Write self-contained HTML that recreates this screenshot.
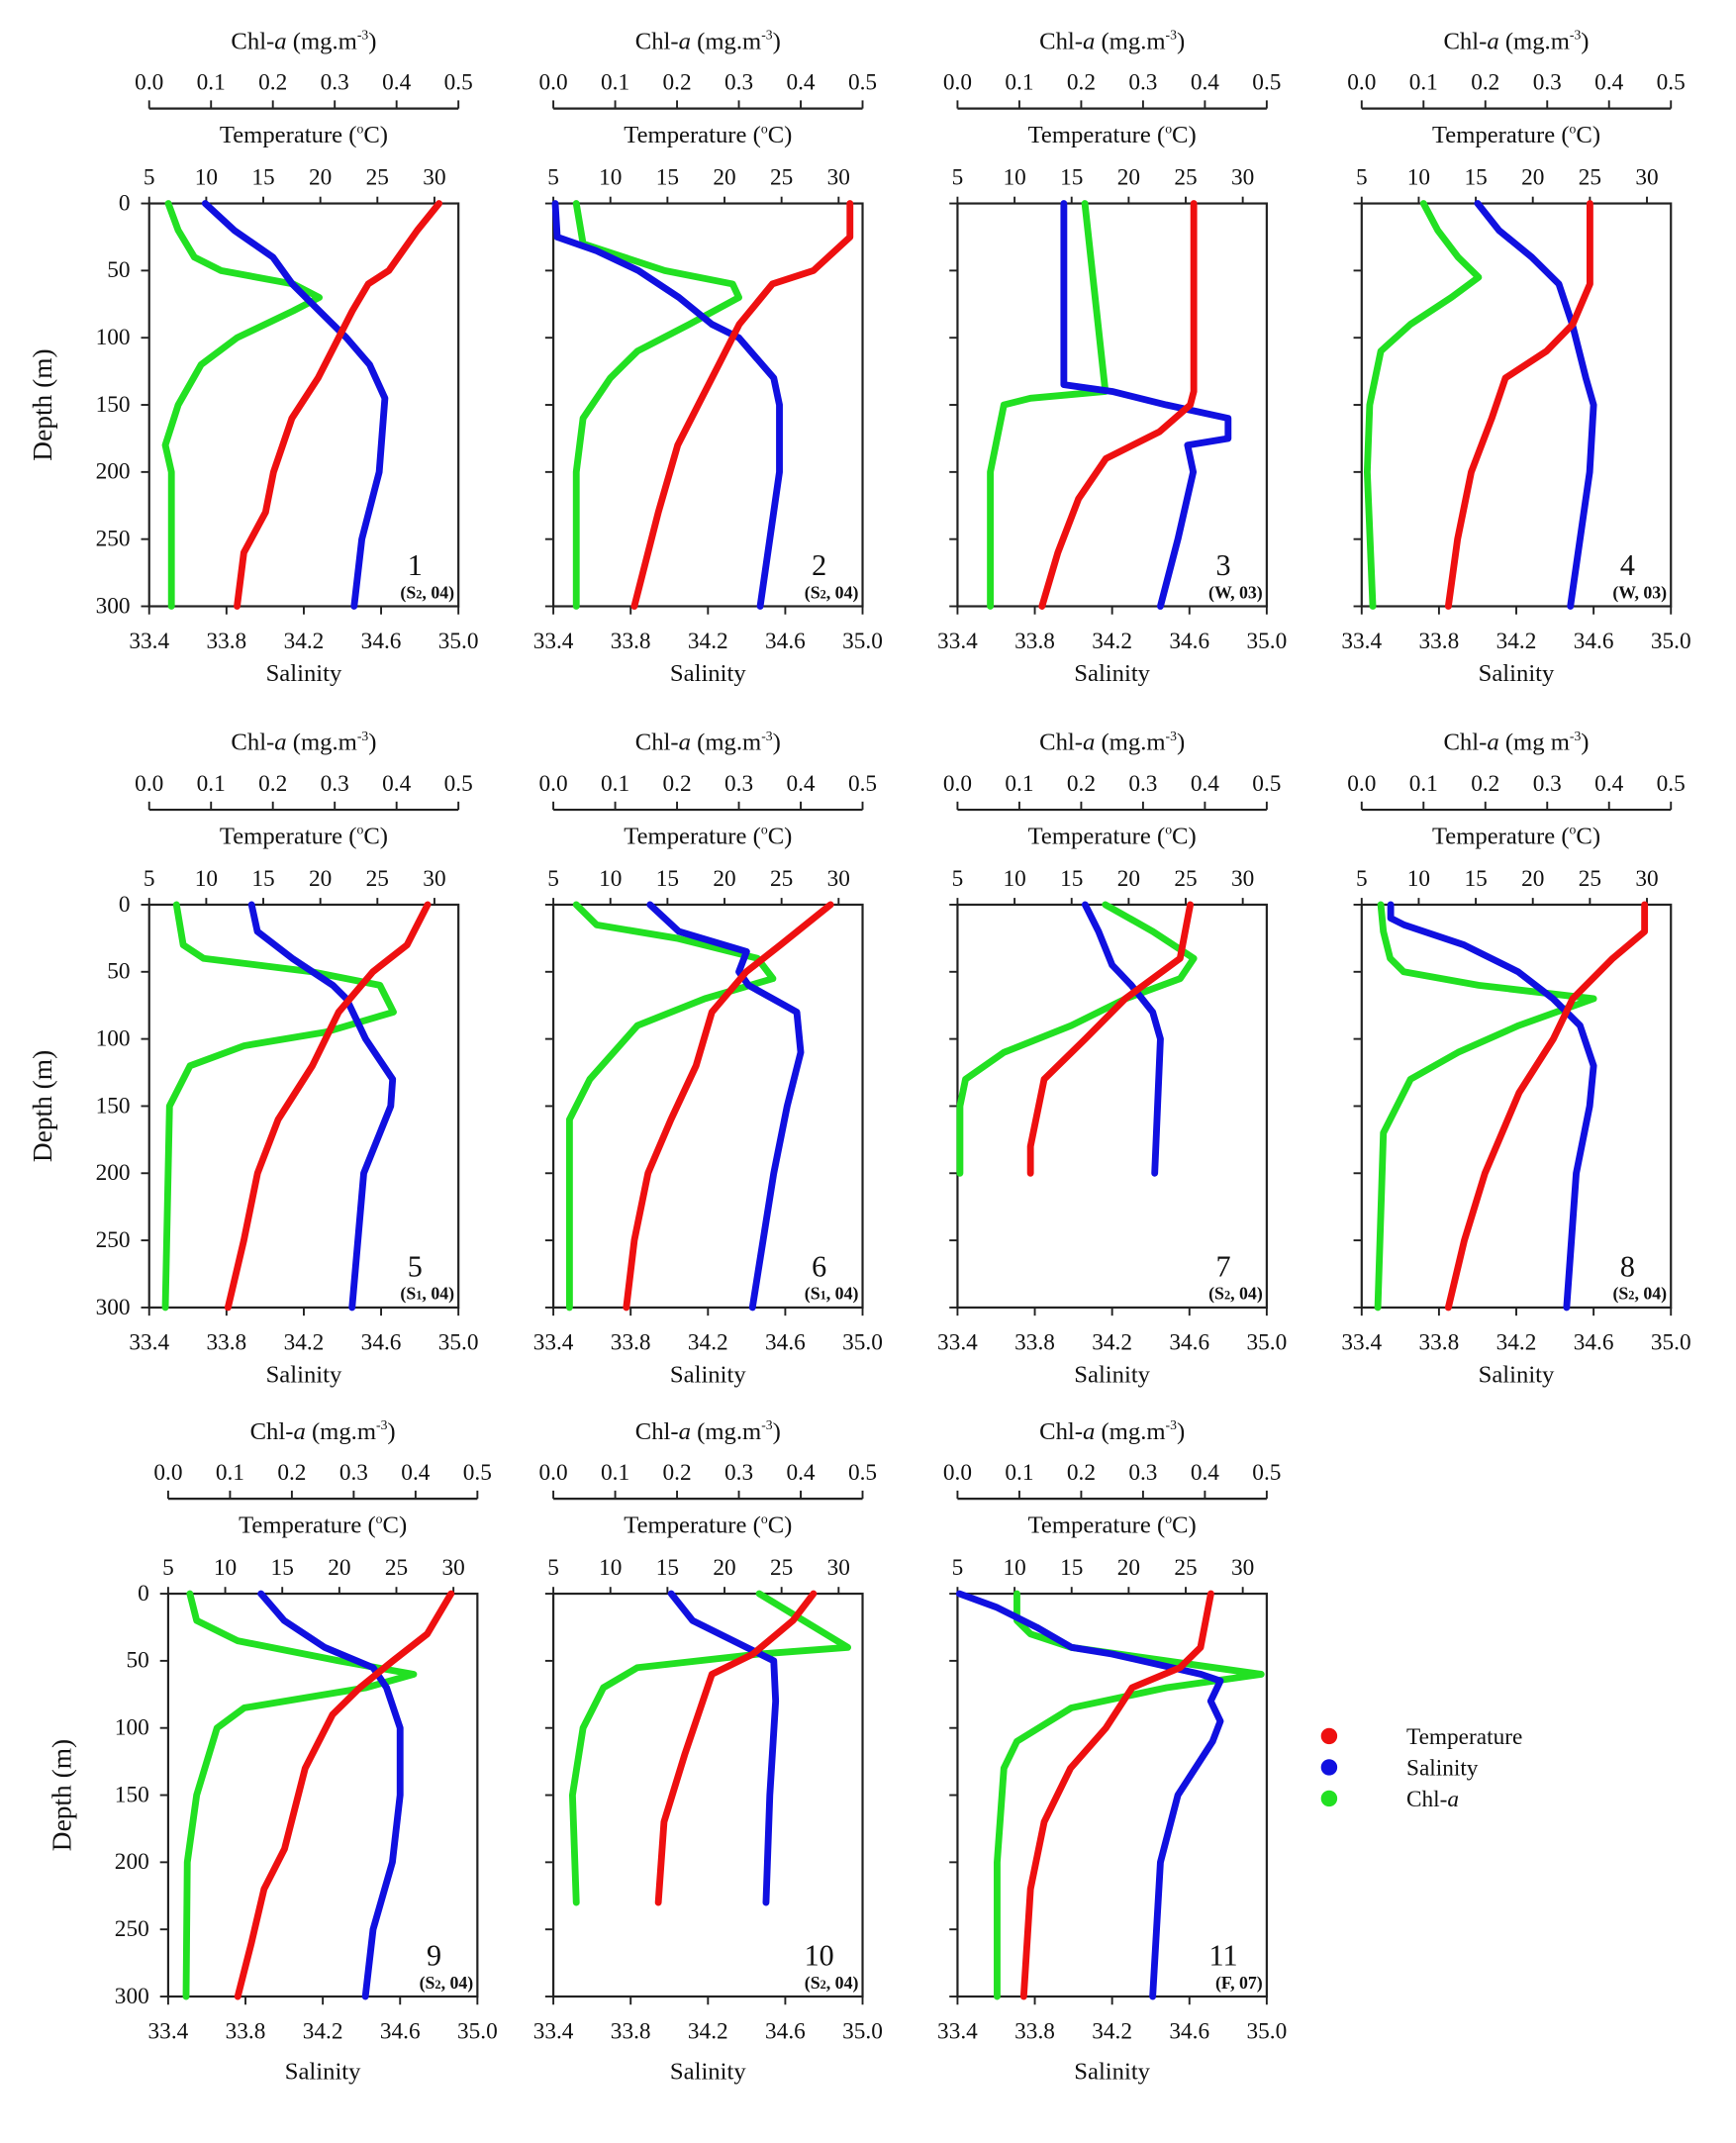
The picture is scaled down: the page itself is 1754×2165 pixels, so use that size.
<!DOCTYPE html>
<html><head><meta charset="utf-8"><style>
html,body{margin:0;padding:0;background:#fff;}
svg{display:block;}
svg text{font-family:"Liberation Serif","DejaVu Serif",serif;}
</style></head><body>
<svg id="fig" width="1754" height="2165" viewBox="0 0 1280 1580" preserveAspectRatio="none" xmlns="http://www.w3.org/2000/svg"></svg>
<script>
// ---- data (depth in m; temperature °C; salinity; chl-a mg m-3) ----
const panelIds = [1,2,3,4,5,6,7,8,9,10,11];
const stationMain = ["S","S","W","W","S","S","S","S","S","S","F"];
const stationSub = ["2","2","","","1","1","2","2","2","2",""];
const stationYear = ["04","04","03","03","04","04","04","04","04","04","07"];
const tempDepth = [
 [0,20,50,60,80,100,130,160,200,230,260,300],
 [0,25,50,60,90,120,150,180,230,300],
 [0,140,150,170,190,220,260,300],
 [0,60,90,110,130,160,200,250,300],
 [0,30,50,80,120,160,200,250,300],
 [0,30,50,80,120,160,200,250,300],
 [0,40,70,100,130,180,200],
 [0,20,40,70,100,140,200,250,300],
 [0,30,50,70,90,130,190,220,260,300],
 [0,20,45,60,80,120,170,230],
 [0,40,55,70,100,130,170,220,300]];
const tempVal = [
 [30.4,28.5,26,24.2,22.8,21.6,19.8,17.5,15.9,15.2,13.3,12.7],
 [31,31,27.8,24.2,21.3,19.5,17.7,15.9,14.2,12.1],
 [25.7,25.7,25.4,22.7,18,15.6,13.8,12.4],
 [25,25,23.5,21.2,17.6,16.4,14.6,13.4,12.6],
 [29.4,27.6,24.6,21.6,19.3,16.3,14.5,13.3,11.9],
 [29.3,24.9,21.9,18.9,17.5,15.3,13.3,12.1,11.4],
 [25.4,24.5,19.7,16.2,12.6,11.4,11.4],
 [29.8,29.8,27,23.5,21.8,18.8,15.8,14,12.6],
 [29.8,27.7,24.7,21.8,19.4,17,15.2,13.4,12.3,11.1],
 [27.8,26,22.5,18.9,18.1,16.5,14.7,14.2],
 [27.2,26.3,24.5,20.3,18,14.9,12.6,11.4,10.8]];
const salDepth = [
 [0,20,40,60,80,100,120,145,200,250,300],
 [0,25,35,50,70,90,100,130,150,200,300],
 [0,135,140,150,160,175,180,200,250,300],
 [0,20,40,60,90,130,150,200,300],
 [0,20,40,60,70,100,130,150,200,300],
 [0,20,35,50,60,80,110,150,200,300],
 [0,20,45,60,80,100,200],
 [0,10,15,30,50,70,90,120,150,200,300],
 [0,20,40,55,70,100,150,200,250,300],
 [0,20,40,50,80,150,230],
 [0,10,25,40,45,60,65,80,95,110,150,200,300]];
const salVal = [
 [33.69,33.84,34.04,34.14,34.28,34.42,34.54,34.62,34.59,34.5,34.46],
 [33.41,33.42,33.62,33.84,34.05,34.22,34.36,34.54,34.57,34.57,34.47],
 [33.95,33.95,34.2,34.48,34.8,34.8,34.59,34.62,34.54,34.45],
 [34.0,34.11,34.28,34.42,34.49,34.56,34.6,34.58,34.48],
 [33.93,33.96,34.14,34.35,34.42,34.52,34.66,34.65,34.51,34.45],
 [33.9,34.05,34.4,34.36,34.41,34.66,34.68,34.61,34.54,34.43],
 [34.06,34.13,34.2,34.3,34.41,34.45,34.42],
 [33.55,33.55,33.62,33.93,34.21,34.39,34.53,34.6,34.58,34.51,34.46],
 [33.88,34.0,34.21,34.46,34.53,34.6,34.6,34.56,34.46,34.42],
 [34.01,34.12,34.4,34.54,34.55,34.52,34.5],
 [33.41,33.6,33.81,33.99,34.2,34.66,34.76,34.71,34.76,34.72,34.54,34.45,34.41]];
const chlDepth = [
 [0,20,40,50,60,70,80,100,120,150,180,200,300],
 [0,30,40,50,60,70,90,110,130,160,200,300],
 [0,140,145,150,200,300],
 [0,20,40,55,70,90,110,150,200,300],
 [0,30,40,50,60,80,95,105,120,150,300],
 [0,15,25,40,55,70,90,130,160,300],
 [0,20,40,55,70,90,110,130,150,200],
 [0,20,40,50,60,70,90,110,130,170,300],
 [0,20,35,50,60,70,85,100,150,200,300],
 [0,40,45,55,70,100,150,230],
 [0,20,30,40,60,70,85,110,130,200,300]];
const chlVal = [
 [0.031,0.047,0.073,0.116,0.233,0.275,0.233,0.142,0.084,0.047,0.026,0.036,0.036],
 [0.037,0.048,0.114,0.18,0.29,0.3,0.22,0.136,0.092,0.048,0.037,0.037],
 [0.206,0.239,0.118,0.075,0.053,0.053],
 [0.1,0.123,0.156,0.189,0.145,0.079,0.031,0.013,0.009,0.018],
 [0.044,0.055,0.088,0.263,0.373,0.395,0.285,0.154,0.066,0.033,0.026],
 [0.037,0.07,0.2,0.33,0.355,0.245,0.136,0.059,0.026,0.026],
 [0.239,0.316,0.382,0.36,0.272,0.184,0.075,0.013,0.004,0.004],
 [0.031,0.035,0.046,0.068,0.189,0.375,0.254,0.156,0.079,0.035,0.026],
 [0.035,0.046,0.112,0.276,0.397,0.32,0.123,0.079,0.046,0.031,0.029],
 [0.333,0.476,0.333,0.136,0.081,0.048,0.031,0.037],
 [0.096,0.096,0.118,0.184,0.491,0.338,0.184,0.096,0.075,0.064,0.064]];
const depthTicks = [0,50,100,150,200,250,300];
const tempTicks = [5,10,15,20,25,30];
const salTicks = [33.4,33.8,34.2,34.6,35.0];
const chlTicks = [0.0,0.1,0.2,0.3,0.4,0.5];

// ---- layout ----
const NS="http://www.w3.org/2000/svg";
const svg=document.getElementById('fig');
const W=228,H=297;
const lefts=[110,408,706,1004,110,408,706,1004,124,408,706];
const tops=[150,150,150,150,667,667,667,667,1175,1175,1175];
function el(tag,attrs,parent){const e=document.createElementNS(NS,tag);for(const k in attrs)e.setAttribute(k,attrs[k]);(parent||svg).appendChild(e);return e;}
function txt(x,y,s,size,anchor,parent){const t=el('text',{x:x,y:y,'font-size':size,'text-anchor':anchor||'middle',fill:'#111','font-family':'Liberation Serif, serif'},parent);t.textContent=s;return t;}

panelIds.forEach((id,i)=>{
  const L=lefts[i],T=tops[i];
  const g=el('g',{});
  
  
  const xT=v=>L+(v-5)/27.1*W, xS=v=>L+(v-33.4)/1.6*W, xC=v=>L+v/0.5*W, yD=d=>T+d/300*H;
  const ca=T-70;
  const chlAxis=el('g',{},g);
  
  
  el('line',{x1:L,x2:L+W,y1:ca,y2:ca,stroke:'#222','stroke-width':1.6},chlAxis);
  chlTicks.forEach(v=>{el('line',{x1:xC(v),x2:xC(v),y1:ca,y2:ca-6,stroke:'#222','stroke-width':1.4},chlAxis);txt(xC(v),ca-14,v.toFixed(1),17,'middle',chlAxis);});
  const ct=txt(L+W/2,T-114,'',18,'middle',chlAxis);
  ct.innerHTML='Chl-<tspan font-style="italic">a</tspan> (mg'+(id===8?' ':'.')+'m<tspan font-size="10" dy="-7">-3</tspan><tspan dy="7">)</tspan>';
  const tt=txt(L+W/2,T-45,'',18,'middle',g);
  
  
  tt.innerHTML='Temperature (<tspan font-size="10" dy="-7">o</tspan><tspan dy="7">C)</tspan>';
  tempTicks.forEach(v=>{el('line',{x1:xT(v),x2:xT(v),y1:T,y2:T-5,stroke:'#222','stroke-width':1.4},g);txt(xT(v),T-14,String(v),17,'middle',g);});
  el('rect',{x:L,y:T,width:W,height:H,fill:'none',stroke:'#222','stroke-width':1.6},g);
  depthTicks.forEach(d=>{el('line',{x1:L,x2:L-6,y1:yD(d),y2:yD(d),stroke:'#222','stroke-width':1.4},g);
    if(i%4===0&&i<8||i===8) txt(L-14,yD(d)+5,String(d),17,'end',g);});
  if(i===0||i===4||i===8){const dl=txt(0,0,'Depth (m)',20,'middle',g);dl.setAttribute('transform','translate('+(L-72)+','+(T+H/2)+') rotate(-90)');
    }
  salTicks.forEach(v=>{el('line',{x1:xS(v),x2:xS(v),y1:T+H,y2:T+H+6,stroke:'#222','stroke-width':1.4},g);txt(xS(v),T+H+31,v.toFixed(1),17,'middle',g);});
  const st=txt(L+W/2,T+H+(i>=8?61:55),'Salinity',18,'middle',g);
  
  const mk=(dep,val,fx,color,name)=>{const p=el('polyline',{points:dep.map((d,k)=>fx(val[k]).toFixed(1)+','+yD(d).toFixed(1)).join(' '),fill:'none',stroke:color,'stroke-width':5,'stroke-linejoin':'round','stroke-linecap':'round'},g);
    };
  mk(chlDepth[i],chlVal[i],xC,'#22e022','chl-a-profile');
  mk(salDepth[i],salVal[i],xS,'#1010e0','salinity-profile');
  mk(tempDepth[i],tempVal[i],xT,'#ee1010','temperature-profile');
  const n=txt(L+W-32,T+H-23,String(id),22,'middle',g);
  
  const s=txt(L+W-3,T+H-6,'',13,'end',g);s.setAttribute('font-weight','bold');
  
  s.innerHTML='('+stationMain[i]+(stationSub[i]?'<tspan font-size="9">'+stationSub[i]+'</tspan>':'')+', '+stationYear[i]+')';
});
const lg=el('g',{});


[['Temperature','#ee1010'],['Salinity','#1010e0'],['Chl-a','#22e022']].forEach((e,k)=>{
  const y=1280+k*23;
  const c=el('circle',{cx:980,cy:y,r:6,fill:e[1]},lg);
  
  const t=txt(1037,y+6,'',17,'start',lg);
  
  t.innerHTML=k===2?'Chl-<tspan font-style="italic">a</tspan>':e[0];
});
</script>
</body></html>
